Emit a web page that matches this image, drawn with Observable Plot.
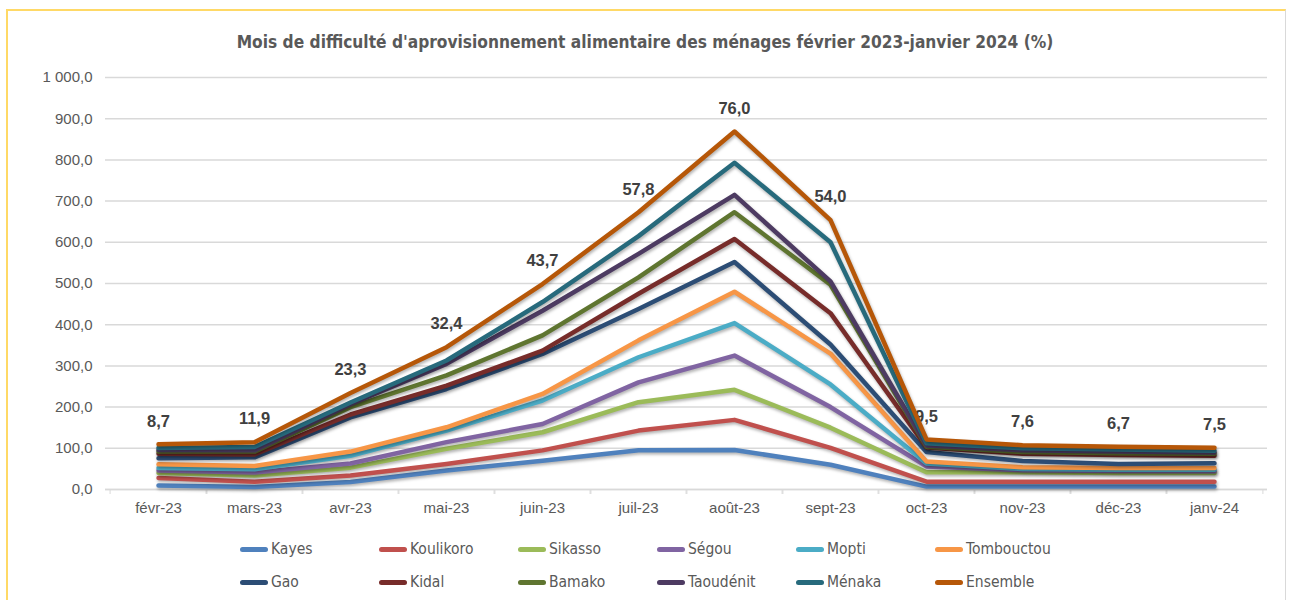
<!DOCTYPE html>
<html><head><meta charset="utf-8">
<script src="https://cdn.jsdelivr.net/npm/d3@7"></script>
<script src="https://cdn.jsdelivr.net/npm/@observablehq/plot@0.6"></script>
<style>
body{margin:0;background:#fff;width:1290px;height:600px;overflow:hidden;position:relative;font-family:"Liberation Sans",Arial,sans-serif}
#frame{position:absolute;left:6px;top:9px;width:1280px;height:600px;border-top:2px solid #FFD966;border-left:2px solid #FFD966;border-right:1px solid #d9d9d9;box-sizing:border-box}
#title{position:absolute;top:32px;left:0;width:1290px;text-align:center;font:bold 17.2px "DejaVu Sans Condensed",sans-serif;color:#595959}
#chart{position:absolute;left:0;top:60px}
#legend{position:absolute;left:240px;top:539px;display:grid;grid-template-columns:repeat(6,139px);row-gap:13px}
.item{display:flex;align-items:center;font-size:15.5px;color:#595959;height:20px;font-family:"DejaVu Sans Condensed",sans-serif}
.sw{width:28px;height:5px;border-radius:3px;margin-right:3px}
#chart g[aria-label="line"] path{filter:drop-shadow(1px 2px 1.5px rgba(0,0,0,0.3))}
</style></head>
<body>
<div id="frame"></div>
<div id="title">Mois de difficulté d'aprovisionnement alimentaire des ménages février 2023-janvier 2024 (%)</div>
<div id="chart"></div>
<div id="legend"></div>
<script>
const months = ["févr-23","mars-23","avr-23","mai-23","juin-23","juil-23","août-23","sept-23","oct-23","nov-23","déc-23","janv-24"];
const regions = ["Kayes","Koulikoro","Sikasso","Ségou","Mopti","Tombouctou","Gao","Kidal","Bamako","Taoudénit","Ménaka","Ensemble"];
const colors = ["#4F81BD","#C0504D","#9BBB59","#8064A2","#4BACC6","#F79646","#2C4D75","#772C2A","#5F7530","#4D3B62","#276A7C","#B65708"];

const kayes      = [10, 6, 18, 46, 70, 95, 96, 60, 7, 7, 7, 7];
const koulikoro  = [18, 13, 16, 16, 25, 48, 73, 41, 12, 12, 12, 12];
const sikasso    = [12, 15, 19, 37, 44, 69, 73, 49, 23, 23, 21, 21];
const segou      = [6, 7, 10, 16, 20, 48, 83, 50, 14, 5, 5, 4];
const mopti      = [6, 8, 19, 28, 57, 61, 79, 55, 7, 3, 3, 4];
const tombouctou = [9, 8, 10, 8, 16, 41, 76, 75, 5, 4, 4, 4];
const gao        = [15, 21, 83, 93, 97, 76, 72, 22, 23, 15, 10, 12];
const kidal      = [11, 7, 7, 8, 8, 37, 56, 76, 11, 18, 22, 18];
const bamako     = [5, 7, 18, 25, 37, 40, 65, 69, 2, 4, 4, 5];
const taoudenit  = [4, 3, 7, 28, 60, 57, 42, 8, 3, 4, 4, 3];
const menaka     = [5, 8, 4, 8, 21, 43, 78, 95, 5, 5, 5, 4];
const ensemble   = [8.7, 11.9, 23.3, 32.4, 43.7, 57.8, 76.0, 54.0, 9.5, 7.6, 6.7, 7.5];
const yTicks = [0,100,200,300,400,500,600,700,800,900,1000];

const series = [kayes,koulikoro,sikasso,segou,mopti,tombouctou,gao,kidal,bamako,taoudenit,menaka,ensemble];
const data = [];
regions.forEach((r, j) => months.forEach((m, i) => data.push({month: m, region: r, value: series[j][i]})));

const fr = d3.formatLocale({decimal: ",", thousands: " ", grouping: [3], currency: ["", " €"]});
const fmtAxis = fr.format(",.1f");
const fmtLab = fr.format(".1f");

const W = 1290, ML = 105, MR = 23;
const half = (W - ML - MR) / months.length / 2;

const chart = Plot.plot({
  width: W, height: 470,
  marginLeft: ML, marginRight: MR, marginTop: 17, marginBottom: 41,
  style: {fontSize: "15px", color: "#595959", fontFamily: "'Liberation Sans', Arial, sans-serif", background: "transparent"},
  x: {type: "point", domain: months, padding: 0.5, label: null},
  y: {domain: [0, 1000], label: null},
  color: {domain: regions, range: colors},
  marks: [
    Plot.gridY(yTicks, {stroke: "#d9d9d9", strokeOpacity: 1, strokeWidth: 1.5}),
    Plot.ruleY([0], {stroke: "#d9d9d9", strokeWidth: 1.5}),
    Plot.axisY({ticks: yTicks, tickSize: 0, tickPadding: 13, tickFormat: fmtAxis, label: null}),
    Plot.axisX({tickSize: 0, tickPadding: 13, label: null}),
    Plot.axisX({tickSize: 5, tickFormat: () => "", dx: -half, stroke: "#d9d9d9", label: null}),
    Plot.axisX({tickSize: 5, tickFormat: () => "", dx: half, stroke: "#d9d9d9", label: null}),
    Plot.text(data, Plot.filter(d => d.region === "Ensemble",
      Plot.stackY2({x: "month", y: "value", z: "region", order: regions, text: d => fmtLab(d.value),
        dy: -23, fontWeight: "bold", fontSize: 16.5, fill: "#404040"}))),
    Plot.lineY(data, Plot.stackY2({x: "month", y: "value", z: "region", order: regions, stroke: "region",
      strokeWidth: 4.5, strokeLinejoin: "round", strokeLinecap: "round"}))
  ]
});
document.getElementById("chart").appendChild(chart);

const leg = document.getElementById("legend");
regions.forEach((r, i) => {
  const it = document.createElement("div");
  it.className = "item";
  it.innerHTML = `<span class="sw" style="background:${colors[i]}"></span><span>${r}</span>`;
  leg.appendChild(it);
});
</script>
</body></html>
